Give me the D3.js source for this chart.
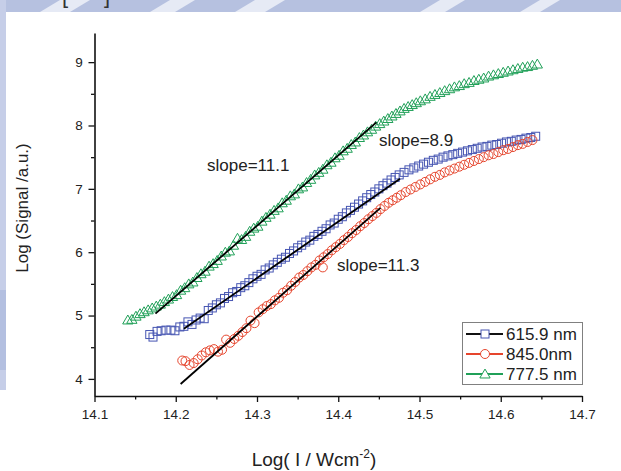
<!DOCTYPE html>
<html>
<head>
<meta charset="utf-8">
<script src="https://cdn.jsdelivr.net/npm/d3@7"></script>
<style>
  html, body { margin: 0; padding: 0; background: #fff; }
  svg { display: block; font-family: Arial, "Liberation Sans", sans-serif; }
</style>
</head>
<body>
<svg id="chart" width="621" height="471"></svg>
<script>
// Series names and legend labels
const seriesNames = ["615.9 nm", "845.0nm", "777.5 nm"];

// 615.9 nm (squares): [log I, log signal]
const blueData = [
  [14.168,4.70],[14.172,4.66],[14.177,4.75],[14.182,4.76],[14.188,4.77],[14.194,4.77],[14.199,4.76],
  [14.205,4.82],[14.210,4.83],[14.215,4.90],[14.220,4.86],[14.225,4.93],[14.230,4.96],[14.235,4.95],
  [14.240,5.08],[14.245,5.12],[14.250,5.17],[14.255,5.20],[14.260,5.27],[14.265,5.30],[14.270,5.36],
  [14.275,5.38],[14.280,5.44],[14.285,5.47],[14.290,5.52],[14.295,5.58],[14.300,5.62],[14.305,5.65],
  [14.310,5.72],[14.315,5.75],[14.320,5.80],[14.325,5.84],[14.330,5.89],[14.335,5.92],[14.340,5.98],
  [14.345,6.02],[14.350,6.07],[14.355,6.11],[14.360,6.16],[14.365,6.19],[14.370,6.25],[14.375,6.28],
  [14.380,6.33],[14.385,6.37],[14.390,6.43],[14.395,6.46],[14.400,6.52],[14.405,6.56],[14.410,6.62],
  [14.415,6.66],[14.420,6.71],[14.425,6.76],[14.430,6.81],[14.435,6.86],[14.440,6.91],[14.445,6.95],
  [14.450,7.00],[14.455,7.05],[14.460,7.09],[14.465,7.14],[14.470,7.18],[14.475,7.22],[14.481,7.26],
  [14.487,7.30],[14.493,7.33],[14.499,7.36],[14.505,7.39],[14.511,7.42],[14.517,7.45],[14.523,7.47],
  [14.529,7.50],[14.535,7.52],[14.541,7.54],[14.547,7.56],[14.553,7.58],[14.559,7.60],[14.565,7.62],
  [14.571,7.64],[14.577,7.66],[14.583,7.67],[14.589,7.69],[14.595,7.70],[14.601,7.72],[14.607,7.74],
  [14.613,7.75],[14.619,7.77],[14.625,7.78],[14.631,7.80],[14.637,7.81],[14.643,7.83]
];

// 845.0 nm (circles)
const redData = [
  [14.208,4.29],[14.212,4.28],[14.217,4.22],[14.222,4.25],[14.227,4.31],[14.232,4.37],[14.237,4.42],
  [14.242,4.45],[14.247,4.47],[14.252,4.43],[14.257,4.46],[14.262,4.62],[14.267,4.57],[14.272,4.63],
  [14.277,4.68],[14.282,4.74],[14.287,4.80],[14.292,4.92],[14.297,4.88],[14.302,5.05],[14.307,5.10],
  [14.312,5.15],[14.317,5.18],[14.322,5.24],[14.327,5.28],[14.332,5.36],[14.337,5.40],[14.342,5.47],
  [14.347,5.53],[14.352,5.60],[14.357,5.64],[14.362,5.70],[14.367,5.76],[14.372,5.80],[14.377,5.87],
  [14.381,5.76],[14.382,5.92],[14.387,5.97],[14.392,6.03],[14.397,6.08],[14.402,6.13],[14.407,6.19],
  [14.412,6.24],[14.417,6.30],[14.422,6.35],[14.427,6.41],[14.432,6.46],[14.437,6.52],[14.442,6.57],
  [14.447,6.62],[14.452,6.68],[14.457,6.73],[14.462,6.78],[14.467,6.82],[14.472,6.86],[14.477,6.90],
  [14.483,6.95],[14.489,6.99],[14.495,7.03],[14.501,7.07],[14.507,7.11],[14.513,7.15],[14.519,7.19],
  [14.525,7.22],[14.531,7.26],[14.537,7.29],[14.543,7.32],[14.549,7.35],[14.555,7.38],[14.561,7.41],
  [14.567,7.44],[14.573,7.47],[14.579,7.50],[14.585,7.53],[14.591,7.55],[14.597,7.58],[14.603,7.61],
  [14.609,7.63],[14.615,7.66],[14.621,7.69],[14.627,7.71],[14.633,7.74],[14.639,7.77]
];

// 777.5 nm (triangles)
const greenData = [
  [14.141,4.93],[14.146,4.94],[14.151,4.99],[14.156,5.03],[14.161,5.06],[14.166,5.09],[14.171,5.12],
  [14.176,5.15],[14.181,5.18],[14.186,5.22],[14.191,5.26],[14.196,5.30],[14.201,5.33],[14.206,5.40],
  [14.211,5.44],[14.216,5.50],[14.221,5.53],[14.226,5.60],[14.231,5.66],[14.236,5.70],[14.241,5.78],
  [14.246,5.82],[14.251,5.87],[14.256,5.94],[14.261,6.00],[14.266,6.02],[14.271,6.11],[14.276,6.22],
  [14.281,6.20],[14.286,6.25],[14.291,6.33],[14.296,6.38],[14.301,6.41],[14.306,6.49],[14.311,6.55],
  [14.316,6.60],[14.321,6.66],[14.326,6.70],[14.331,6.78],[14.336,6.82],[14.341,6.89],[14.346,6.92],
  [14.351,7.00],[14.356,7.03],[14.361,7.10],[14.366,7.15],[14.371,7.22],[14.376,7.26],[14.381,7.31],
  [14.386,7.38],[14.391,7.42],[14.396,7.49],[14.401,7.53],[14.406,7.60],[14.411,7.64],[14.416,7.70],
  [14.421,7.74],[14.426,7.81],[14.431,7.85],[14.436,7.90],[14.441,7.94],[14.446,7.99],[14.451,8.03],
  [14.456,8.07],[14.461,8.11],[14.466,8.15],[14.471,8.19],[14.476,8.23],[14.481,8.27],[14.486,8.30],
  [14.491,8.33],[14.496,8.36],[14.501,8.39],[14.507,8.42],[14.513,8.46],[14.519,8.49],[14.525,8.52],
  [14.531,8.55],[14.537,8.58],[14.543,8.61],[14.549,8.63],[14.555,8.66],[14.561,8.68],[14.567,8.71],
  [14.573,8.73],[14.579,8.75],[14.585,8.78],[14.591,8.80],[14.597,8.82],[14.603,8.84],[14.609,8.86],
  [14.615,8.88],[14.621,8.90],[14.627,8.92],[14.633,8.93],[14.639,8.95],[14.645,8.97]
];

// Linear fits: [[x0,y0],[x1,y1]] and their slope annotations
const fitGreen = [[14.175,5.03],[14.447,8.05]];   // slope 11.1
const fitBlue  = [[14.210,4.79],[14.476,7.16]];   // slope 8.9
const fitRed   = [[14.206,3.92],[14.452,6.70]];   // slope 11.3
const slopeLabels = ["slope=11.1", "slope=8.9", "slope=11.3"];

// Axis ticks
const xMajorTicks = [14.1,14.2,14.3,14.4,14.5,14.6,14.7];
const xMinorTicks = [14.15,14.25,14.35,14.45,14.55,14.65];
const yMajorTicks = [4,5,6,7,8,9];
const yMinorTicks = [4.5,5.5,6.5,7.5,8.5];

const colors = { blue: "#4655b2", red: "#e6452d", green: "#20a058" };

const svg = d3.select("#chart");

// faint banner strips along the top and left edges
const bg = svg.append("g");
bg.append("rect").attr("x", 0).attr("y", 0).attr("width", 621).attr("height", 12).attr("fill", "#b6c1e0");
bg.append("rect").attr("x", 0).attr("y", 0).attr("width", 6).attr("height", 390).attr("fill", "#c6cee8");
bg.append("rect").attr("x", 0).attr("y", 290).attr("width", 6).attr("height", 80).attr("fill", "#b3bfe0");
[[40,70],[150,175],[235,265],[420,445],[520,540]].forEach(([a,b]) => {
  bg.append("path").attr("d", `M${a},12 L${a+20},0 L${b+20},0 L${b},12 Z`).attr("fill", "#e6eaf5");
});
bg.append("text").attr("x", 62).attr("y", 3).attr("font-size", 22).attr("fill", "#333").text("[");
bg.append("text").attr("x", 104).attr("y", 3).attr("font-size", 22).attr("fill", "#333").text("]");

const x = d3.scaleLinear().domain([14.1, 14.7]).range([94.5, 582]);
const y = d3.scaleLinear().domain([3.73, 9.46]).range([396, 33]);

// axes
const xAxisG = svg.append("g").attr("transform", `translate(0,${y.range()[0]})`);
xAxisG.call(d3.axisBottom(x).tickValues(xMajorTicks).tickSize(6).tickSizeOuter(0).tickFormat(d3.format(".1f")));
const xMinorG = svg.append("g").attr("transform", `translate(0,${y.range()[0]})`);
xMinorG.call(d3.axisBottom(x).tickValues(xMinorTicks).tickSize(3.5).tickFormat(""));
xMinorG.select(".domain").remove();

const yAxisG = svg.append("g").attr("transform", `translate(${x.range()[0]},0)`);
yAxisG.call(d3.axisLeft(y).tickValues(yMajorTicks).tickSize(6).tickSizeOuter(0).tickFormat(d3.format("d")));
const yMinorG = svg.append("g").attr("transform", `translate(${x.range()[0]},0)`);
yMinorG.call(d3.axisLeft(y).tickValues(yMinorTicks).tickSize(3.5).tickFormat(""));
yMinorG.select(".domain").remove();

svg.selectAll(".domain").attr("stroke", "#111").attr("stroke-width", 1.6);
svg.selectAll(".tick line").attr("stroke", "#111").attr("stroke-width", 1.3);
xAxisG.selectAll(".tick text").attr("font-size", 13.5).attr("font-family", "Arial, Liberation Sans, sans-serif").attr("fill", "#222").attr("dy", "1.0em");
yAxisG.selectAll(".tick text").attr("font-size", 13.5).attr("font-family", "Arial, Liberation Sans, sans-serif").attr("fill", "#222").attr("dx", "-0.2em");

// axis titles
const xt = svg.append("text").attr("x", 314).attr("y", 466).attr("text-anchor", "middle")
  .attr("font-size", 19).attr("fill", "#222");
xt.append("tspan").text("Log( I / Wcm");
xt.append("tspan").attr("font-size", 12).attr("dy", -8).text("-2");
xt.append("tspan").attr("dy", 8).text(")");

svg.append("text").attr("transform", "translate(28,208) rotate(-90)").attr("text-anchor", "middle")
  .attr("font-size", 17).attr("fill", "#222").text("Log (Signal /a.u.)");

// data markers
const plot = svg.append("g");
plot.append("g").selectAll("rect").data(blueData).join("rect")
  .attr("x", d => x(d[0]) - 4).attr("y", d => y(d[1]) - 4)
  .attr("width", 8).attr("height", 8)
  .attr("fill", "none").attr("stroke", colors.blue).attr("stroke-width", 1);

plot.append("g").selectAll("circle").data(redData).join("circle")
  .attr("cx", d => x(d[0])).attr("cy", d => y(d[1])).attr("r", 4.5)
  .attr("fill", "none").attr("stroke", colors.red).attr("stroke-width", 1);

const tri = d3.symbol().type(d3.symbolTriangle).size(46);
plot.append("g").selectAll("path").data(greenData).join("path")
  .attr("transform", d => `translate(${x(d[0])},${y(d[1]) + 1})`)
  .attr("d", tri)
  .attr("fill", "none").attr("stroke", colors.green).attr("stroke-width", 1);

// fitted lines
const line = d3.line().x(d => x(d[0])).y(d => y(d[1]));
[fitGreen, fitBlue, fitRed].forEach(f => {
  plot.append("path").attr("d", line(f)).attr("stroke", "#000").attr("stroke-width", 1.8).attr("fill", "none");
});

// slope annotations
const ann = [[207, 171], [379, 146], [337, 271]];
slopeLabels.forEach((t, i) => {
  svg.append("text").attr("x", ann[i][0]).attr("y", ann[i][1]).attr("font-size", 17).attr("fill", "#222").text(t);
});

// legend
const lg = svg.append("g");
lg.append("rect").attr("x", 462.5).attr("y", 322.5).attr("width", 120).attr("height", 62)
  .attr("fill", "#fff").attr("stroke", "#808080").attr("stroke-width", 1);
const legendLine = ["#111", colors.red, colors.green];
const rowY = [334, 354, 374];
seriesNames.forEach((name, i) => {
  const g = lg.append("g").attr("transform", `translate(0,${rowY[i]})`);
  g.append("line").attr("x1", 466).attr("x2", 503).attr("y1", 0).attr("y2", 0)
    .attr("stroke", legendLine[i]).attr("stroke-width", 2);
  if (i === 0) {
    g.append("rect").attr("x", 481).attr("y", -4).attr("width", 8).attr("height", 8)
      .attr("fill", "#fff").attr("stroke", colors.blue);
  } else if (i === 1) {
    g.append("circle").attr("cx", 485).attr("cy", 0).attr("r", 4.5).attr("fill", "#fff").attr("stroke", colors.red);
  } else {
    g.append("path").attr("transform", "translate(485,1)").attr("d", tri).attr("fill", "#fff").attr("stroke", colors.green);
  }
  g.append("text").attr("x", 506).attr("y", 6).attr("font-size", 17).attr("fill", "#222").text(name);
});
</script>
</body>
</html>
